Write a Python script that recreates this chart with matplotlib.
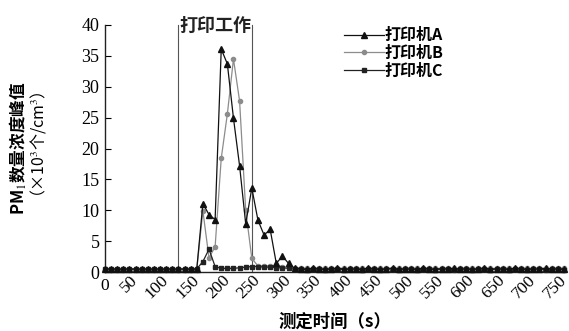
import matplotlib
matplotlib.use("Agg")
import matplotlib.pyplot as plt
import numpy as np

plt.rcParams['font.family'] = ['Liberation Serif', 'Noto Sans CJK SC', 'DejaVu Sans']
plt.rcParams['mathtext.fontset'] = 'stix'

# ---- data ----
time_s = list(range(0, 760, 10))
series_names = ["打印机A", "打印机B", "打印机C"]

printer_a = [0.5, 0.5, 0.5, 0.5, 0.5, 0.5, 0.5, 0.5, 0.5, 0.5, 0.5, 0.5, 0.5, 0.5, 0.5, 0.5,
             11.1, 9.3, 8.5, 36.1, 33.7, 24.9, 17.2, 7.8, 13.6, 8.4, 6.0, 6.9, 1.4, 2.6, 1.4,
             0.6, 0.5, 0.5, 0.6, 0.5, 0.5, 0.5, 0.6, 0.5, 0.5, 0.5, 0.5, 0.6, 0.5, 0.5,
             0.5, 0.6, 0.5, 0.5, 0.5, 0.5, 0.6, 0.5, 0.5, 0.5, 0.5, 0.6, 0.5, 0.5, 0.5,
             0.5, 0.6, 0.5, 0.5, 0.5, 0.5, 0.6, 0.5, 0.5, 0.5, 0.5, 0.6, 0.5, 0.5, 0.5]
printer_b = [0.4, 0.4, 0.4, 0.4, 0.4, 0.4, 0.4, 0.4, 0.4, 0.4, 0.4, 0.4, 0.4, 0.4, 0.4, 0.4,
             9.9, 2.3, 4.1, 18.4, 25.6, 34.5, 27.7, 10.0, 2.2, 1.0, 1.0, 1.0, 1.0, 0.9, 0.8,
             0.7, 0.7, 0.6, 0.6, 0.7, 0.6, 0.6, 0.7, 0.6, 0.6, 0.7, 0.6, 0.6, 0.7, 0.6,
             0.6, 0.7, 0.6, 0.6, 0.7, 0.6, 0.6, 0.7, 0.6, 0.6, 0.7, 0.6, 0.6, 0.7, 0.6,
             0.6, 0.7, 0.6, 0.6, 0.7, 0.6, 0.6, 0.7, 0.6, 0.6, 0.7, 0.6, 0.6, 0.7, 0.6]
printer_c = [0.5, 0.5, 0.5, 0.5, 0.5, 0.5, 0.5, 0.5, 0.5, 0.5, 0.5, 0.5, 0.5, 0.5, 0.5, 0.5,
             1.7, 3.7, 0.9, 0.6, 0.6, 0.6, 0.7, 0.8, 0.9, 0.9, 0.8, 0.8, 0.7, 0.7, 0.6,
             0.5, 0.5, 0.4, 0.5, 0.5, 0.4, 0.5, 0.5, 0.4, 0.5, 0.5, 0.4, 0.5, 0.5, 0.4,
             0.5, 0.5, 0.4, 0.5, 0.5, 0.4, 0.5, 0.5, 0.4, 0.5, 0.5, 0.4, 0.5, 0.5, 0.4,
             0.5, 0.5, 0.4, 0.5, 0.5, 0.4, 0.5, 0.5, 0.4, 0.5, 0.5, 0.4, 0.5, 0.5, 0.4]

work_window = [120, 240]
work_label = "打印工作"
x_ticks = list(range(0, 800, 50))
y_ticks = [0, 5, 10, 15, 20, 25, 30, 35, 40]

CJK = ['Noto Sans CJK SC', 'DejaVu Sans']

# ---- figure ----
fig = plt.figure(figsize=(5.69, 3.31), dpi=100)
ax = fig.add_axes([0.1845, 0.178, 0.8065, 0.7465])

ax.plot(time_s, printer_a, color='#111111', lw=0.9, marker='^', ms=4.2,
        label=series_names[0], clip_on=False, zorder=3)
ax.plot(time_s, printer_b, color='#8c8c8c', lw=0.9, marker='o', ms=3.0,
        label=series_names[1], clip_on=False, zorder=2)
ax.plot(time_s, printer_c, color='#222222', lw=0.9, marker='s', ms=2.6,
        label=series_names[2], clip_on=False, zorder=2.5)

for xv in work_window:
    ax.plot([xv, xv], [0, 40], color='#555555', lw=0.8, zorder=1, clip_on=False)
ax.text(sum(work_window) / 2, 40.0, work_label, ha='center', va='center',
        fontsize=13, family=CJK, fontweight='bold', color='#222222')

ax.set_xlim(0, 750)
ax.set_ylim(0, 40)
ax.set_xticks(x_ticks)
ax.set_yticks(y_ticks)
ax.set_yticklabels([str(v) for v in y_ticks], fontsize=13)
ax.set_xticklabels([str(v) for v in x_ticks], fontsize=12.5)
for i, lab in enumerate(ax.get_xticklabels()):
    if i == 0:
        lab.set_rotation(0)
        lab.set_ha('center')
        lab.set_va('top')
    else:
        lab.set_rotation(45)
        lab.set_ha('right')
        lab.set_va('center')
        lab.set_rotation_mode('anchor')
ax.tick_params(axis='y', direction='in', length=4, pad=4, width=0.8)
ax.tick_params(axis='x', direction='in', length=0, pad=4)

for s in ['top', 'right']:
    ax.spines[s].set_visible(False)
for s in ['left', 'bottom']:
    ax.spines[s].set_linewidth(1.0)
    ax.spines[s].set_color('#222222')

fig.text(0.5878, 0.027, "测定时间（s）", ha='center', va='center', fontsize=12.5,
         family=CJK, fontweight='bold')
fig.text(0.032, 0.552, "PM$_1$数量浓度峰值", ha='center', va='center', rotation=90,
         fontsize=12, family=CJK, fontweight='bold')
fig.text(0.066, 0.552, "（×10$^3$个/cm$^3$）", ha='center', va='center', rotation=90,
         fontsize=11.5, family=CJK)

leg = fig.legend(loc='upper left', bbox_to_anchor=(0.604, 0.918), frameon=False,
                 prop={'family': CJK, 'size': 11.5, 'weight': 'bold'},
                 handlelength=2.5, handletextpad=0.05, labelspacing=0.12,
                 borderpad=0, borderaxespad=0)

fig.savefig("out.png", dpi=100)
